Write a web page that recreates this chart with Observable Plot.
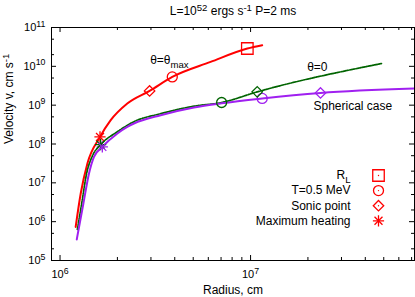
<!DOCTYPE html>
<html>
<head>
<meta charset="utf-8">
<script src="https://cdn.jsdelivr.net/npm/d3@7"></script>
<script src="https://cdn.jsdelivr.net/npm/@observablehq/plot@0.6"></script>
<style>
  body { margin: 0; background: #fff; }
  svg { font-family: "Liberation Sans", Arial, sans-serif; }
</style>
</head>
<body>
<div id="chart"></div>
<script>
// ---- data (radius in cm, velocity in cm/s) ----
const redR = [1.208e6, 1.284e6, 1.392e6, 1.621e6, 1.845e6, 2.254e6, 2.951e6, 3.882e6, 6.166e6, 9.616e6, 1.151e7];
const redV = [7.33e5, 5.31e6, 3.15e7, 1.52e8, 4.10e8, 1.10e9, 2.33e9, 5.35e9, 1.30e10, 2.88e10, 3.51e10];

const greenR = [1.233e6, 1.300e6, 1.380e6, 1.476e6, 1.633e6, 2.0e6, 2.443e6, 3.373e6, 5.047e6, 7.047e6, 1.084e7, 4.864e7];
const greenV = [6.28e5, 2.99e6, 1.77e7, 4.85e7, 9.59e7, 2.07e8, 3.76e8, 6.04e8, 9.42e8, 1.17e9, 2.20e9, 1.18e10];

const purpleR = [1.224e6, 1.326e6, 1.419e6, 1.507e6, 1.667e6, 2.0e6, 2.254e6, 2.443e6, 3.373e6, 5.047e6, 7.047e6, 1.151e7, 2.328e7, 7.25e7];
const purpleV = [3.48e5, 2.94e6, 1.74e7, 4.66e7, 8.43e7, 1.87e8, 2.76e8, 3.37e8, 5.52e8, 8.71e8, 1.12e9, 1.49e9, 2.07e9, 2.69e9];

// markers: [R_L, T=0.5 MeV, Sonic point, Maximum heating]
const markerKinds = ["RL", "T05", "sonic", "maxheat"];
const redMarkR = [9.616e6, 3.882e6, 2.951e6, 1.621e6];
const redMarkV = [2.88e10, 5.35e9, 2.33e9, 1.52e8];
const greenMarkR = [null, 7.047e6, 1.084e7, 1.633e6];
const greenMarkV = [null, 1.17e9, 2.20e9, 9.59e7];
const purpleMarkR = [null, 1.151e7, 2.328e7, 1.667e6];
const purpleMarkV = [null, 1.49e9, 2.07e9, 8.43e7];

const legendLabels = ["R_{L}", "T=0.5 MeV", "Sonic point", "Maximum heating"];

const curveLabels = ["θ=θ_{max}", "θ=0", "Spherical case"];
const curveLabelR = [3.75e6, 2.24e7, 3.44e7];
const curveLabelV = [1.45e10, 9.4e9, 9.53e8];

const xMajor = [1e6, 1e7];
const xMinor = [2e6, 3e6, 4e6, 5e6, 6e6, 7e6, 8e6, 9e6, 2e7, 3e7, 4e7, 5e7, 6e7, 7e7];
const yMajor = [1e5, 1e6, 1e7, 1e8, 1e9, 1e10, 1e11];
const yMinor = [2e5, 5e5, 2e6, 5e6, 2e7, 5e7, 2e8, 5e8, 2e9, 5e9, 2e10, 5e10];

const titleText = "L=10^{52} ergs s^{-1} P=2 ms";
const xLabel = "Radius, cm";
const yLabel = "Velocity v, cm s^{-1}";

// ---- layout ----
const W = 415, H = 297, mL = 51, mR = 1, mT = 27, mB = 37;
const fW = W - mL - mR, fH = H - mT - mB;
const RED = "#ff0000", GREEN = "#006400", PURPLE = "#a020f0";

const series = (R, V, name) => R.map((r, i) => ({r, v: V[i], name}));
const redLine = series(redR, redV, "red");
const greenLine = series(greenR, greenV, "green");
const purpleLine = series(purpleR, purpleV, "purple");

function markers(R, V, color) {
  return R.map((r, i) => ({r, v: V[i], kind: markerKinds[i], color})).filter(d => d.r != null);
}
const allMarkers = [
  ...markers(redMarkR, redMarkV, RED),
  ...markers(greenMarkR, greenMarkV, GREEN),
  ...markers(purpleMarkR, purpleMarkV, PURPLE)
];

function markerMarks(data) {
  const sw = 1.3;
  return [
    Plot.dot(data.filter(d => d.kind === "RL"), {x: "r", y: "v", symbol: "square", r: 6.5, stroke: "color", fill: "none", strokeWidth: sw}),
    Plot.dot(data.filter(d => d.kind === "T05"), {x: "r", y: "v", symbol: "circle", r: 5, stroke: "color", fill: "none", strokeWidth: sw}),
    Plot.dot(data.filter(d => d.kind === "sonic"), {x: "r", y: "v", symbol: "diamond2", r: 4.7, stroke: "color", fill: "none", strokeWidth: sw}),
    Plot.dot(data.filter(d => d.kind === "maxheat"), {x: "r", y: "v", symbol: "plus", r: 3.7, stroke: "color", strokeWidth: sw}),
    Plot.dot(data.filter(d => d.kind === "maxheat"), {x: "r", y: "v", symbol: "times", r: 3.7, stroke: "color", strokeWidth: sw})
  ];
}

const legendSymbols = ["square", "circle", "diamond2", "star"];
const legendMarks = [];
legendLabels.forEach((lab, i) => {
  const dy = 148 + 15.1 * i;
  legendMarks.push(Plot.text([lab], {text: d => d, frameAnchor: "top-right", dx: -64, dy, textAnchor: "end", lineAnchor: "middle", fontSize: 12, fill: "black"}));
  const sym = legendSymbols[i];
  if (sym === "star") {
    legendMarks.push(Plot.dot([lab], {frameAnchor: "top-right", dx: -36, dy, symbol: "plus", r: 3.7, stroke: RED, strokeWidth: 1.3}));
    legendMarks.push(Plot.dot([lab], {frameAnchor: "top-right", dx: -36, dy, symbol: "times", r: 3.7, stroke: RED, strokeWidth: 1.3}));
  } else {
    const r = sym === "square" ? 6.5 : sym === "circle" ? 5 : 4.7;
    legendMarks.push(Plot.dot([lab], {frameAnchor: "top-right", dx: -36, dy, symbol: sym, r, stroke: RED, fill: "none", strokeWidth: 1.3}));
    legendMarks.push(Plot.dot([lab], {frameAnchor: "top-right", dx: -36, dy, symbol: "circle", r: 0.7, fill: RED, stroke: "none"}));
  }
});

const sup = d => `10^{${Math.round(Math.log10(d))}}`;

const chart = Plot.plot({
  width: W, height: H,
  marginLeft: mL, marginRight: mR, marginTop: mT, marginBottom: mB,
  style: {fontFamily: "'Liberation Sans', Arial, sans-serif", fontSize: "12px", background: "white"},
  x: {type: "log", domain: [9.02e5, 7.25e7]},
  y: {type: "log", domain: [1e5, 1e11]},
  marks: [
    // tick marks (inward, all four sides)
    Plot.tickY(yMajor, {y: d => d, insetRight: fW - 5, stroke: "black"}),
    Plot.tickY(yMajor, {y: d => d, insetLeft: fW - 5, stroke: "black"}),
    Plot.tickY(yMinor, {y: d => d, insetRight: fW - 3, stroke: "black"}),
    Plot.tickY(yMinor, {y: d => d, insetLeft: fW - 3, stroke: "black"}),
    Plot.tickX(xMajor, {x: d => d, insetTop: fH - 5, stroke: "black"}),
    Plot.tickX(xMajor, {x: d => d, insetBottom: fH - 5, stroke: "black"}),
    Plot.tickX(xMinor, {x: d => d, insetTop: fH - 3, stroke: "black"}),
    Plot.tickX(xMinor, {x: d => d, insetBottom: fH - 3, stroke: "black"}),
    Plot.axisY({ticks: yMajor, tickSize: 0, tickPadding: 6, tickFormat: sup, label: null, fontSize: 11}),
    Plot.axisX({ticks: xMajor, tickSize: 0, tickPadding: 10, tickFormat: sup, label: null, fontSize: 11}),
    // curves
    Plot.line(redLine, {x: "r", y: "v", stroke: RED, strokeWidth: 2, curve: "monotone-x", clip: true}),
    Plot.line(greenLine, {x: "r", y: "v", stroke: GREEN, strokeWidth: 1.7, strokeDasharray: "3,1.2,1,1.2", curve: "monotone-x", clip: true}),
    Plot.line(purpleLine, {x: "r", y: "v", stroke: PURPLE, strokeWidth: 2, curve: "monotone-x", clip: true}),
    ...markerMarks(allMarkers),
    // curve labels
    Plot.text(curveLabels, {x: (d, i) => curveLabelR[i], y: (d, i) => curveLabelV[i], text: d => d, fontSize: 12, fill: "black"}),
    // legend
    ...legendMarks,
    // title and axis labels
    Plot.text([titleText], {text: d => d, frameAnchor: "top", dy: -16, lineAnchor: "middle", fontSize: 12}),
    Plot.text([xLabel], {text: d => d, frameAnchor: "bottom", dy: 29.5, lineAnchor: "middle", fontSize: 12}),
    Plot.text([yLabel], {text: d => d, frameAnchor: "left", dx: -42, rotate: -90, lineAnchor: "middle", fontSize: 12}),
    Plot.frame({stroke: "black"})
  ]
});

document.getElementById("chart").appendChild(chart);

// rich text: ^{...} superscript, _{...} subscript
function richText(svg) {
  d3.select(svg).selectAll("text").each(function () {
    const el = this;
    const s = el.textContent;
    if (!/[\^_]\{/.test(s)) return;
    const parts = [];
    const re = /([\^_])\{([^}]*)\}/g;
    let last = 0, m;
    while ((m = re.exec(s))) {
      if (m.index > last) parts.push({t: s.slice(last, m.index), k: 0});
      parts.push({t: m[2], k: m[1] === "^" ? 1 : -1});
      last = re.lastIndex;
    }
    if (last < s.length) parts.push({t: s.slice(last), k: 0});
    const fs = parseFloat(getComputedStyle(el).fontSize) || 12;
    while (el.firstChild) el.removeChild(el.firstChild);
    let cur = 0;
    for (const p of parts) {
      const ts = document.createElementNS("http://www.w3.org/2000/svg", "tspan");
      const target = p.k === 1 ? -0.4 * fs : p.k === -1 ? 0.3 * fs : 0;
      if (target !== cur) ts.setAttribute("dy", target - cur);
      cur = target;
      if (p.k) ts.setAttribute("font-size", (0.8 * fs).toFixed(2));
      ts.textContent = p.t;
      el.appendChild(ts);
    }
  });
}
richText(chart);
</script>
</body>
</html>
